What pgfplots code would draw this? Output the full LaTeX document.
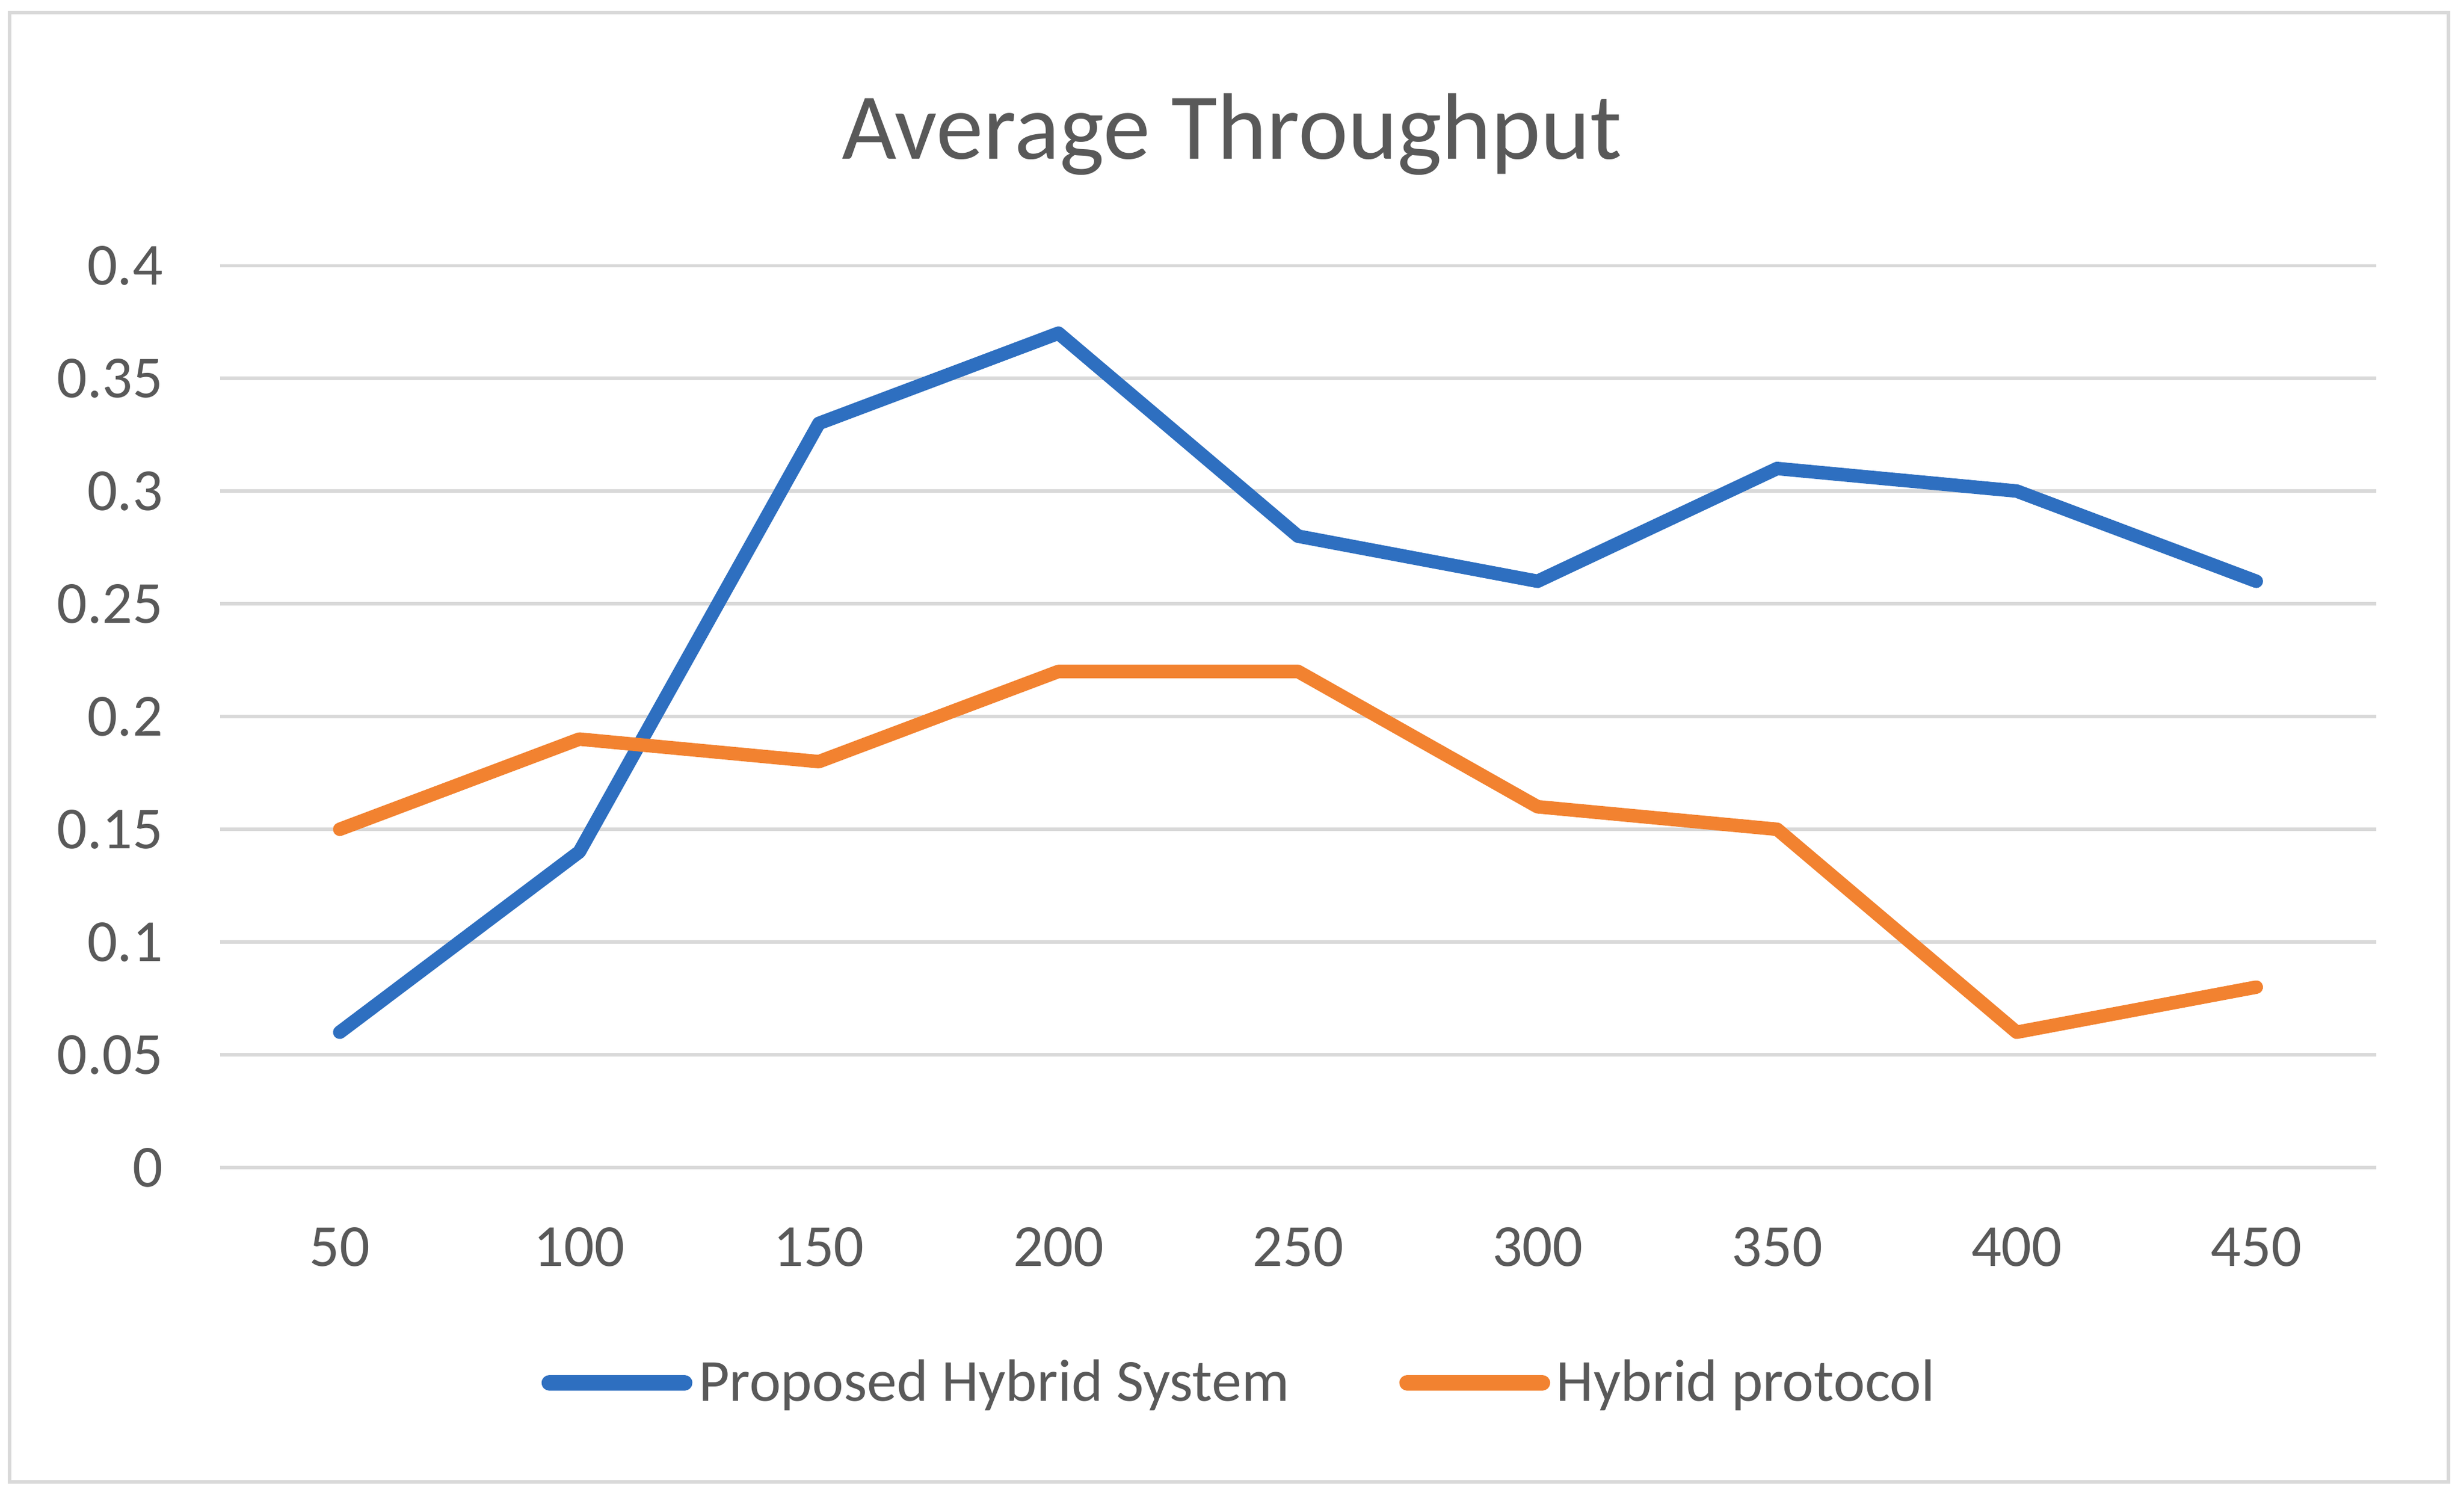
\documentclass[border=0pt]{standalone}
\usepackage{fontspec}
\setmainfont{Carlito}
\usepackage{pgfplots}
\pgfplotsset{compat=1.18}

\definecolor{xlblue}{HTML}{2E6FC0}
\definecolor{xlorange}{HTML}{F28230}
\definecolor{gridgray}{HTML}{D9D9D9}
\definecolor{txtgray}{HTML}{595959}

\begin{document}
\begin{tikzpicture}
\useasboundingbox (-70pt,-106pt) rectangle (714pt,371.5pt);
\draw[gridgray, line width=1.2pt] (-67pt,-100pt) rectangle (709pt,367.5pt);
\begin{axis}[
    at={(0,0)}, anchor=south west,
    scale only axis,
    width=686pt, height=287pt,
    xmin=-0.5, xmax=8.5,
    ymin=0, ymax=0.4,
    xtick={0,...,8},
    xticklabels={50,100,150,200,250,300,350,400,450},
    ytick={0,0.05,...,0.4},
    yticklabels={0,0.05,0.1,0.15,0.2,0.25,0.3,0.35,0.4},
    axis line style={draw=none},
    major tick length=0pt,
    ymajorgrids,
    grid style={gridgray, line width=1pt},
    tick label style={font=\fontsize{19}{22}\selectfont, text=txtgray},
    /pgf/number format/assume math mode=true,
    xticklabel style={anchor=base, inner sep=0pt, yshift=-31.5pt},
    yticklabel style={anchor=east, inner sep=0pt, xshift=-18pt},
    title={Average Throughput},
    title style={font=\fontsize{30}{34}\selectfont, text=txtgray,
                 at={(0.5,1)}, anchor=base, yshift=28pt, xshift=-21pt},
    legend columns=2,
    legend style={at={(0.5,0)}, anchor=center, yshift=-68.5pt, xshift=-18pt,
                  draw=none, fill=none,
                  font=\fontsize{19}{22}\selectfont, text=txtgray,
                  /tikz/every even column/.append style={column sep=33pt}},
    legend image code/.code={\draw[#1, line width=5pt] (0pt,0pt) -- (43pt,0pt);},
    every axis plot/.append style={line width=4.3pt, line join=round, line cap=round},
]
\addplot[xlblue] coordinates {
    (0,0.06) (1,0.14) (2,0.33) (3,0.37) (4,0.28) (5,0.26) (6,0.31) (7,0.30) (8,0.26)};
\addplot[xlorange] coordinates {
    (0,0.15) (1,0.19) (2,0.18) (3,0.22) (4,0.22) (5,0.16) (6,0.15) (7,0.06) (8,0.08)};
\legend{Proposed Hybrid System, Hybrid protocol}
\end{axis}
\end{tikzpicture}
\end{document}
